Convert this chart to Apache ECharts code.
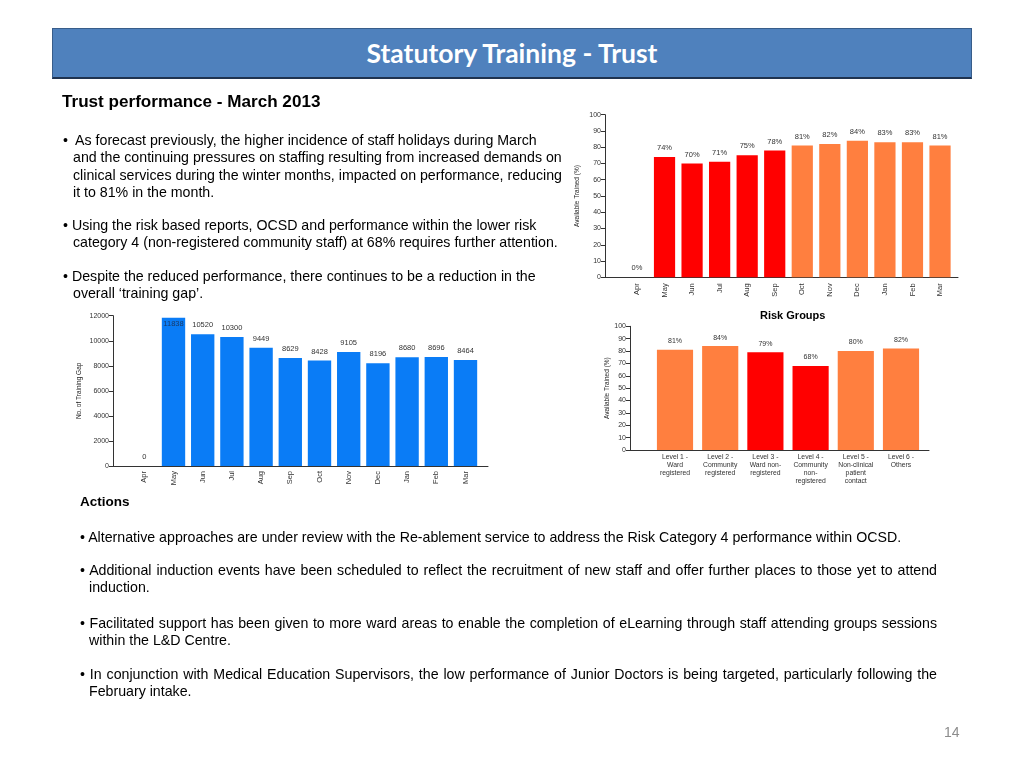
<!DOCTYPE html>
<html>
<head>
<meta charset="utf-8">
<script src="https://cdn.jsdelivr.net/npm/echarts@6/dist/echarts.min.js"></script>
<style>
  html, body { margin:0; padding:0; background:#fff; }
  body { width:1024px; height:768px; position:relative; overflow:hidden; font-family:"Liberation Sans", Arial, sans-serif; color:#000; }
  #chart { position:absolute; left:0; top:0; width:1024px; height:768px; }
  .titlebar { position:absolute; left:52px; top:28px; width:918px; height:48px; background:#4F81BD; border:1px solid #385D8A; border-bottom:2px solid #1F3350; color:#fff; font-family:Lato, "Open Sans", sans-serif; font-weight:bold; font-size:26.5px; text-align:center; line-height:48px; }
  .t { position:absolute; font-size:14.2px; line-height:17.3px; white-space:nowrap; }
  .b { font-weight:bold; }
  .hang { padding-left:10px; text-indent:-10px; }
  .just { position:absolute; font-size:14.2px; line-height:17.3px; }
  .just .l1 { text-align:justify; text-align-last:justify; white-space:nowrap; }
  .pn { position:absolute; left:944px; top:724px; font-size:14px; color:#8C8C8C; }
  .rg { position:absolute; left:760px; top:309px; font-size:11px; font-weight:bold; }
</style>
</head>
<body>
<div id="chart"></div>
<div class="titlebar">Statutory Training - Trust</div>

<div class="t b" style="left:62px; top:92px; font-size:17.1px; line-height:20px;">Trust performance - March 2013</div>
<div class="t hang" style="left:63px; top:132px;">•&nbsp; As forecast previously, the higher incidence of staff holidays during March<br>and the continuing pressures on staffing resulting from increased demands on<br>clinical services during the winter months, impacted on performance, reducing<br>it to 81% in the month.</div>
<div class="t hang" style="left:63px; top:217px;">• Using the risk based reports, OCSD and performance within the lower risk<br>category 4 (non-registered community staff) at 68% requires further attention.</div>
<div class="t hang" style="left:63px; top:268px;">• Despite the reduced performance, there continues to be a reduction in the<br>overall ‘training gap’.</div>

<div class="rg">Risk Groups</div>

<div class="t b" style="left:80px; top:493px; font-size:13.5px;">Actions</div>
<div class="t" style="left:80px; top:529px;">• Alternative approaches are under review with the Re-ablement service to address the Risk Category 4 performance within OCSD.</div>
<div class="just" style="left:80px; top:562px; width:857px;"><div class="l1">• Additional induction events have been scheduled to reflect the recruitment of new staff and offer further places to those yet to attend</div><div style="padding-left:9px;">induction.</div></div>
<div class="just" style="left:80px; top:615px; width:857px;"><div class="l1">• Facilitated support has been given to more ward areas to enable the completion of eLearning through staff attending groups sessions</div><div style="padding-left:9px;">within the L&amp;D Centre.</div></div>
<div class="just" style="left:80px; top:666px; width:857px;"><div class="l1">• In conjunction with Medical Education Supervisors, the low performance of Junior Doctors is being targeted, particularly following the</div><div style="padding-left:9px;">February intake.</div></div>

<div class="pn">14</div>

<script>
// ---- Data ----
const months = ['Apr','May','Jun','Jul','Aug','Sep','Oct','Nov','Dec','Jan','Feb','Mar'];
const trustTrainedPct = [0, 74, 70, 71, 75, 78, 81, 82, 84, 83, 83, 81];
const trainingGap = [0, 11838, 10520, 10300, 9449, 8629, 8428, 9105, 8196, 8680, 8696, 8464];
const riskGroups = [
  'Level 1 -\nWard\nregistered',
  'Level 2 -\nCommunity\nregistered',
  'Level 3 -\nWard non-\nregistered',
  'Level 4 -\nCommunity\nnon-\nregistered',
  'Level 5 -\nNon-clinical\npatient\ncontact',
  'Level 6 -\nOthers'
];
const riskTrainedPct = [81, 84, 79, 68, 80, 82];
const pctTicks = [0, 100, 10];
const gapTicks = [0, 12000, 2000];

// ---- Styles ----
const FONT = '"Liberation Sans", Arial, sans-serif';
const AX = '#333';
const RED = '#FF0000', ORANGE = '#FF7F3F', BLUE = '#0A7CF6';
const colorFor = v => (v >= 80 ? ORANGE : RED);

const chart = echarts.init(document.getElementById('chart'));

function frameX(gi) {
  return { type:'value', gridIndex:gi, min:0, max:1,
    axisLine:{show:true, lineStyle:{color:AX}}, axisTick:{show:false},
    axisLabel:{show:false}, splitLine:{show:false} };
}
function frameY(gi, ticks, name, gap, nameSize) {
  return { type:'value', gridIndex:gi, min:ticks[0], max:ticks[1], interval:ticks[2],
    axisLine:{show:true, lineStyle:{color:AX}},
    axisTick:{show:true, length:4, lineStyle:{color:AX}},
    axisLabel:{fontSize:7, color:'#333', fontFamily:FONT, margin:4, formatter: v => String(v)},
    splitLine:{show:false},
    name:name, nameLocation:'middle', nameGap:gap,
    nameTextStyle:{fontSize:nameSize, color:'#222', fontFamily:FONT} };
}
function hiddenY(gi, ticks) {
  return { type:'value', gridIndex:gi, min:ticks[0], max:ticks[1], show:false, splitLine:{show:false} };
}
function catX(gi, data, labelOpts) {
  return { type:'category', gridIndex:gi, data:data,
    axisLine:{show:false}, axisTick:{show:false}, splitLine:{show:false},
    axisLabel:Object.assign({color:'#333', fontFamily:FONT, interval:0}, labelOpts) };
}

chart.setOption({
  animation:false,
  grid:[
    {left:605, top:114.7, width:353, height:162.6},
    {left:623.2, top:114.7, width:330.6, height:162.6},
    {left:113, top:315.7, width:375, height:150.3},
    {left:129.7, top:315.7, width:350.4, height:150.3},
    {left:630, top:326.3, width:299, height:123.7},
    {left:652.4, top:326.3, width:271.2, height:123.7}
  ],
  xAxis:[
    frameX(0),
    catX(1, months, {rotate:90, fontSize:7.5, margin:6}),
    frameX(2),
    catX(3, months, {rotate:90, fontSize:7.5, margin:5}),
    frameX(4),
    catX(5, riskGroups, {fontSize:6.8, lineHeight:8, margin:3})
  ],
  yAxis:[
    frameY(0, pctTicks, 'Available Trained (%)', 24, 6.5),
    hiddenY(1, pctTicks),
    frameY(2, gapTicks, 'No. of Training Gap', 30, 6.5),
    hiddenY(3, gapTicks),
    frameY(4, pctTicks, 'Available Trained (%)', 19, 6.5),
    hiddenY(5, pctTicks)
  ],
  series:[
    { type:'bar', xAxisIndex:1, yAxisIndex:1, barCategoryGap:'23%',
      data: trustTrainedPct.map(v => ({value:v, itemStyle:{color:colorFor(v)}})),
      label:{show:true, position:'top', distance:5, formatter:'{c}%', fontSize:7.5, color:'#333', fontFamily:FONT} },
    { type:'bar', xAxisIndex:3, yAxisIndex:3, barCategoryGap:'20%',
      data: trainingGap.map(v => (v > gapTicks[1] * 0.96
        ? {value:v, label:{position:'insideTop', distance:2, color:'#1a3a66'}} : v)),
      itemStyle:{color:BLUE},
      label:{show:true, position:'top', distance:5, fontSize:7.5, color:'#333', fontFamily:FONT} },
    { type:'bar', xAxisIndex:5, yAxisIndex:5, barCategoryGap:'20%',
      data: riskTrainedPct.map(v => ({value:v, itemStyle:{color:colorFor(v)}})),
      label:{show:true, position:'top', distance:5, formatter:'{c}%', fontSize:7, color:'#333', fontFamily:FONT} }
  ]
});
</script>
</body>
</html>
